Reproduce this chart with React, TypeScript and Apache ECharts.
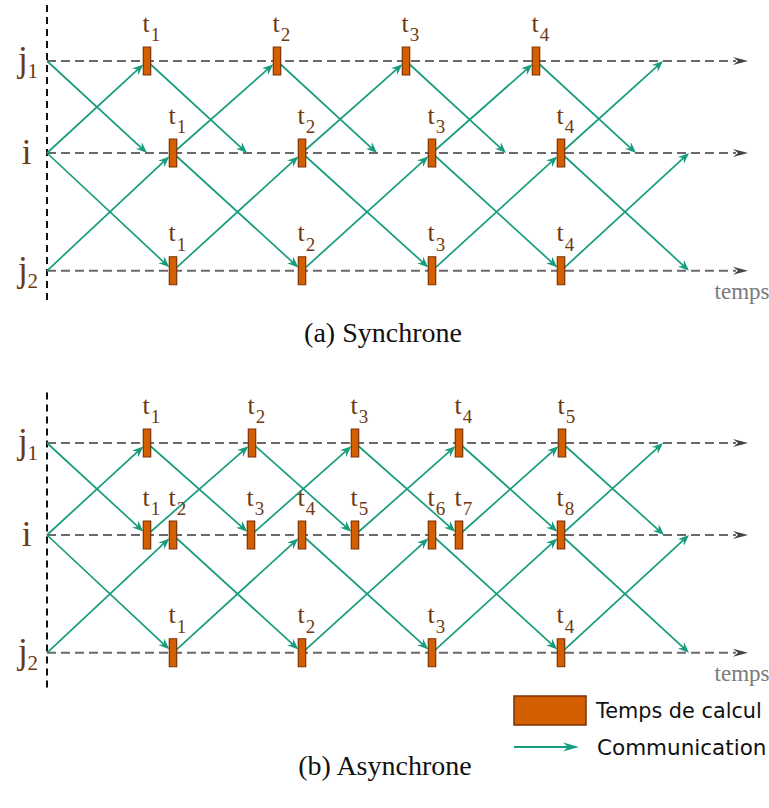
import React, { useEffect, useRef } from "react";
import * as echarts from "echarts";

// ---- Data ----
const LANE_NAMES = ["j", "i", "j"];
const LANE_SUBS = ["1", "", "2"];
const LANE_LEVELS = [0, 1, 2.28];

// computation instants per lane (time units)
const SYNC_COMPUTE_J1 = [100, 230, 359, 489];
const SYNC_COMPUTE_I = [126, 255, 385, 514];
const SYNC_COMPUTE_J2 = [126, 255, 385, 514];

const ASYNC_COMPUTE_J1 = [100, 205, 308, 412, 515];
const ASYNC_COMPUTE_I = [100, 126, 204, 255, 308, 385, 412, 514];
const ASYNC_COMPUTE_J2 = [126, 255, 385, 514];

// messages: [fromLane, sendTime, toLane, arrivalTime]
const SYNC_MESSAGES = [
  [0, 0, 1, 100], [1, 0, 0, 100], [1, 0, 2, 126], [2, 0, 1, 126],
  [0, 100, 1, 200], [1, 126, 0, 230], [1, 126, 2, 255], [2, 126, 1, 255],
  [0, 230, 1, 330], [1, 255, 0, 359], [1, 255, 2, 385], [2, 255, 1, 385],
  [0, 359, 1, 459], [1, 385, 0, 489], [1, 385, 2, 514], [2, 385, 1, 514],
  [0, 489, 1, 589], [1, 514, 0, 616], [1, 514, 2, 642], [2, 514, 1, 642],
];
const ASYNC_MESSAGES = [
  [0, 0, 1, 100], [1, 0, 0, 100], [1, 0, 2, 126], [2, 0, 1, 126],
  [0, 100, 1, 204], [1, 100, 0, 205], [1, 126, 2, 255], [2, 126, 1, 255],
  [0, 205, 1, 308], [1, 204, 0, 308], [1, 255, 2, 385], [2, 255, 1, 385],
  [0, 308, 1, 412], [1, 308, 0, 412], [1, 385, 2, 514], [2, 385, 1, 514],
  [0, 412, 1, 514], [1, 412, 0, 515], [1, 514, 0, 616], [0, 515, 1, 617],
  [1, 514, 2, 642], [2, 514, 1, 642],
];

const TIME_MAX = 722;
const TIMELINE_END = 701;
const SYNC_AXIS_SPAN = [-0.61, 2.6];
const ASYNC_AXIS_SPAN = [-0.55, 2.68];

const CAPTIONS = ["(a) Synchrone", "(b) Asynchrone"];
const LEGEND_LABELS = ["Temps de calcul", "Communication"];
const TIME_LABEL = "temps";

// ---- Styles ----
const GREEN = "#179c7d";
const ORANGE = "#d45f00";
const EDGE = "#7c3206";
const TEXT_BROWN = "#6e3812";
const DASH_GREY = "#6a6a6a";
const SERIF = '"Liberation Serif", "Times New Roman", serif';
const SANS = '"DejaVu Sans", Verdana, sans-serif';
const RECT_HALF_W = 3.7;
const RECT_HALF_H = 14;

function arrowPoints(tx: number, ty: number, ux: number, uy: number, len: number, half: number, notch: number) {
  const nx = -uy, ny = ux;
  const bx = tx - ux * len, by = ty - uy * len;
  return [
    [tx, ty],
    [bx + nx * half, by + ny * half],
    [tx - ux * (len - notch), ty - uy * (len - notch)],
    [bx - nx * half, by - ny * half],
  ];
}

function txt(text: string, x: number, y: number, font: string, fill: string, align: string) {
  return {
    type: "text",
    x,
    y,
    style: {
      text,
      font,
      fill,
      align,
      textAlign: align,
      verticalAlign: "middle",
      textVerticalAlign: "middle",
    },
  };
}

function panelSeries(idx: number, compute: number[][], messages: number[][], span: number[]) {
  const base = { type: "custom", coordinateSystem: "cartesian2d", xAxisIndex: idx, yAxisIndex: idx, silent: true };
  const rectData: number[][] = [];
  compute.forEach((times, lane) => times.forEach((t, k) => rectData.push([t, LANE_LEVELS[lane], k + 1])));
  const msgData = messages.map(([fl, ft, tl, tt]) => [
    ft, LANE_LEVELS[fl], tt, LANE_LEVELS[tl], compute[tl].includes(tt) ? 1 : 0,
  ]);
  return [
    {
      ...base,
      z: 1,
      data: [[0, span[0], span[1]]],
      renderItem: (_p: any, api: any) => {
        const a = api.coord([api.value(0), api.value(1)]);
        const b = api.coord([api.value(0), api.value(2)]);
        return {
          type: "line",
          shape: { x1: a[0], y1: a[1], x2: b[0], y2: b[1] },
          style: { stroke: "#111", lineWidth: 2, lineDash: [7, 5] },
        };
      },
    },
    {
      ...base,
      z: 1,
      data: LANE_LEVELS.map((l) => [0, l, TIMELINE_END]),
      renderItem: (_p: any, api: any) => {
        const a = api.coord([api.value(0), api.value(1)]);
        const b = api.coord([api.value(2), api.value(1)]);
        return {
          type: "group",
          children: [
            {
              type: "line",
              shape: { x1: a[0], y1: a[1], x2: b[0] - 12, y2: b[1] },
              style: { stroke: DASH_GREY, lineWidth: 2, lineDash: [9, 5] },
            },
            {
              type: "polygon",
              shape: { points: arrowPoints(b[0], b[1], 1, 0, 15, 4, 5) },
              style: { fill: "#444" },
            },
          ],
        };
      },
    },
    {
      ...base,
      z: 2,
      data: msgData,
      renderItem: (_p: any, api: any) => {
        const p0 = api.coord([api.value(0), api.value(1)]);
        const p1 = api.coord([api.value(2), api.value(3)]);
        const dx = p1[0] - p0[0], dy = p1[1] - p0[1];
        const L = Math.hypot(dx, dy);
        const ux = dx / L, uy = dy / L;
        const back = api.value(4) ? RECT_HALF_W / Math.abs(ux) : 0;
        const tx = p1[0] - ux * back, ty = p1[1] - uy * back;
        return {
          type: "group",
          children: [
            {
              type: "line",
              shape: { x1: p0[0], y1: p0[1], x2: tx - ux * 7, y2: ty - uy * 7 },
              style: { stroke: GREEN, lineWidth: 1.7 },
            },
            {
              type: "polygon",
              shape: { points: arrowPoints(tx, ty, ux, uy, 11, 4.5, 3.5) },
              style: { fill: GREEN },
            },
          ],
        };
      },
    },
    {
      ...base,
      z: 3,
      data: rectData,
      renderItem: (_p: any, api: any) => {
        const c = api.coord([api.value(0), api.value(1)]);
        return {
          type: "group",
          children: [
            {
              type: "rect",
              shape: { x: c[0] - RECT_HALF_W, y: c[1] - RECT_HALF_H, width: RECT_HALF_W * 2, height: RECT_HALF_H * 2 },
              style: { fill: ORANGE, stroke: EDGE, lineWidth: 1.2 },
            },
            txt("t", c[0] - 1, c[1] - 37.8, `26px ${SERIF}`, TEXT_BROWN, "center"),
            txt(String(api.value(2)), c[0] + 3.8, c[1] - 26.5, `19px ${SERIF}`, TEXT_BROWN, "left"),
          ],
        };
      },
    },
    {
      ...base,
      z: 4,
      data: LANE_LEVELS.map((l, k) => [0, l, k]),
      renderItem: (_p: any, api: any) => {
        const c = api.coord([api.value(0), api.value(1)]);
        const k = api.value(2);
        const name = LANE_NAMES[k];
        const sub = LANE_SUBS[k];
        const children: any[] = [];
        if (sub) {
          children.push(txt(name, c[0] - 29, c[1] - 1.1, `35px ${SERIF}`, TEXT_BROWN, "left"));
          children.push(txt(sub, c[0] - 19.5, c[1] + 10.2, `21px ${SERIF}`, TEXT_BROWN, "left"));
        } else {
          children.push(txt(name, c[0] - 20.5, c[1] - 0.6, `35px ${SERIF}`, TEXT_BROWN, "center"));
        }
        return { type: "group", children };
      },
    },
    {
      ...base,
      z: 4,
      data: [[TIMELINE_END, LANE_LEVELS[2]]],
      renderItem: (_p: any, api: any) => {
        const c = api.coord([api.value(0), api.value(1)]);
        return txt(TIME_LABEL, c[0] - 6, c[1] + 20.7, `23px ${SERIF}`, "#7a7a7a", "center");
      },
    },
  ];
}

export default function App() {
  const ref = useRef<HTMLDivElement>(null);
  useEffect(() => {
    if (!ref.current) return;
    const chart = echarts.init(ref.current, undefined, { renderer: "svg" });
    const gridH = 92 * LANE_LEVELS[2];
    const option: any = {
      animation: false,
      backgroundColor: "#ffffff",
      grid: [
        { left: 47, top: 61, width: TIME_MAX, height: gridH },
        { left: 47, top: 443, width: TIME_MAX, height: gridH },
      ],
      xAxis: [0, 1].map((i) => ({ gridIndex: i, type: "value", min: 0, max: TIME_MAX, show: false })),
      yAxis: [0, 1].map((i) => ({ gridIndex: i, type: "value", min: 0, max: LANE_LEVELS[2], inverse: true, show: false })),
      series: [
        ...panelSeries(0, [SYNC_COMPUTE_J1, SYNC_COMPUTE_I, SYNC_COMPUTE_J2], SYNC_MESSAGES, SYNC_AXIS_SPAN),
        ...panelSeries(1, [ASYNC_COMPUTE_J1, ASYNC_COMPUTE_I, ASYNC_COMPUTE_J2], ASYNC_MESSAGES, ASYNC_AXIS_SPAN),
      ],
      graphic: [
        txt(CAPTIONS[0], 383, 332, `28px ${SERIF}`, "#111", "center"),
        txt(CAPTIONS[1], 385, 765, `28px ${SERIF}`, "#111", "center"),
        {
          type: "rect",
          shape: { x: 514, y: 696, width: 72, height: 29 },
          style: { fill: ORANGE, stroke: EDGE, lineWidth: 1.5 },
        },
        txt(LEGEND_LABELS[0], 596, 711, `20.8px ${SANS}`, "#111", "left"),
        {
          type: "line",
          shape: { x1: 514, y1: 747, x2: 568, y2: 747 },
          style: { stroke: GREEN, lineWidth: 1.8 },
        },
        {
          type: "polygon",
          shape: { points: arrowPoints(579, 747, 1, 0, 16, 4.5, 5) },
          style: { fill: GREEN },
        },
        txt(LEGEND_LABELS[1], 597, 747, `21.5px ${SANS}`, "#111", "left"),
      ],
    };
    chart.setOption(option);
    return () => chart.dispose();
  }, []);
  return <div ref={ref} style={{ position: "absolute", left: 0, top: 0, width: 769, height: 808 }} />;
}
